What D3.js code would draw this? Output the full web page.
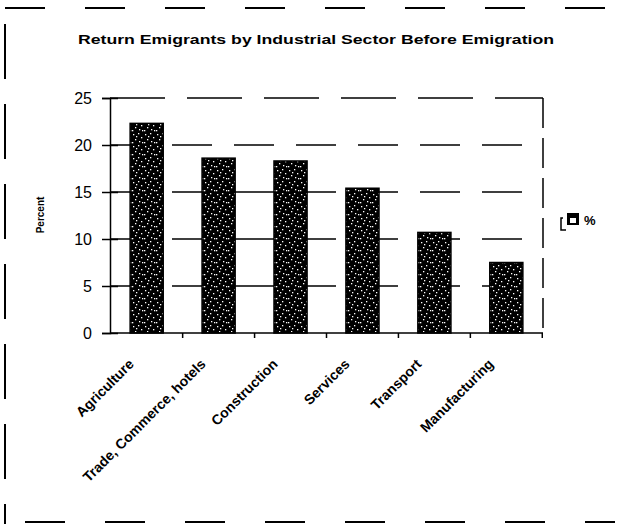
<!DOCTYPE html>
<html><head><meta charset="utf-8">
<script src="https://cdn.jsdelivr.net/npm/d3@7"></script>
<style>body{margin:0;background:#fff}svg{display:block}</style>
</head><body>
<script>
const categories = ["Agriculture","Trade, Commerce, hotels","Construction","Services","Transport","Manufacturing"];
const values = [22.3, 18.6, 18.3, 15.4, 10.7, 7.5];
const yTicks = [0,5,10,15,20,25];
const title = "Return Emigrants by Industrial Sector Before Emigration";
const yLabel = "Percent";
const legendLabel = "%";

const W=617,H=524;
const svg=d3.select("body").append("svg").attr("width",W).attr("height",H);
const defs=svg.append("defs");
const pat=defs.append("pattern").attr("id","speck").attr("patternUnits","userSpaceOnUse").attr("width",12).attr("height",12);
pat.append("rect").attr("width",12).attr("height",12).attr("fill","#000");
[[1,2],[6,1],[9,5],[3,7],[7,9],[10,10],[4,4],[0,10]].forEach(p=>pat.append("rect").attr("x",p[0]).attr("y",p[1]).attr("width",1.3).attr("height",1.3).attr("fill","#fff"));

const L=110,R=543,T=98,B=333;
const x=d3.scaleBand().domain(categories).range([L,R]).paddingInner(0.54).paddingOuter(0.28);
const y=d3.scaleLinear().domain([0,25]).range([B,T]);

// outer frame (dashed)
svg.append("line").attr("x1",5).attr("x2",615).attr("y1",8).attr("y2",8).attr("stroke","#000").attr("stroke-width",2).attr("stroke-dasharray","40,40");
svg.append("line").attr("x1",5).attr("x2",5).attr("y1",24).attr("y2",524).attr("stroke","#000").attr("stroke-width",2).attr("stroke-dasharray","55,25");
svg.append("line").attr("x1",25).attr("x2",615).attr("y1",522).attr("y2",522).attr("stroke","#000").attr("stroke-width",2).attr("stroke-dasharray","40,40");

// title
svg.append("text").attr("x",316).attr("y",44).attr("text-anchor","middle").attr("font-family","Liberation Sans, Arial, sans-serif").attr("font-weight","bold").attr("font-size",13).attr("textLength",476).attr("lengthAdjust","spacingAndGlyphs").text(title);

// grid lines
const g=svg.append("g");
yTicks.filter(t=>t>0&&t<25).forEach(t=>{
  g.append("line").attr("x1",L).attr("x2",R).attr("y1",y(t)).attr("y2",y(t)).attr("stroke","#000").attr("stroke-width",1.5).attr("stroke-dasharray","40,22");
});
// top and right border dashed
g.append("line").attr("x1",L).attr("x2",R).attr("y1",y(25)).attr("y2",y(25)).attr("stroke","#000").attr("stroke-width",1.5).attr("stroke-dasharray","55,22");
g.append("line").attr("x1",R).attr("x2",R).attr("y1",y(25)).attr("y2",B).attr("stroke","#000").attr("stroke-width",1.5).attr("stroke-dasharray","30,10");

// bars
svg.append("g").selectAll("rect").data(values).join("rect")
 .attr("x",(d,i)=>x(categories[i])).attr("y",d=>y(d))
 .attr("width",x.bandwidth()).attr("height",d=>B-y(d))
 .attr("fill","url(#speck)").attr("stroke","#000").attr("stroke-width",1.5);

// y axis
const ya=svg.append("g").attr("transform",`translate(${L},0)`).call(d3.axisLeft(y).tickValues(yTicks).tickSize(8).tickPadding(10));
ya.select(".domain").attr("stroke-width",1.5);
ya.selectAll(".tick line").attr("stroke-width",1.5).attr("x2",-8).attr("x1",8);
ya.selectAll("text").attr("font-family","Liberation Sans, Arial, sans-serif").attr("font-size",16);

// x axis
svg.append("line").attr("x1",L).attr("x2",R).attr("y1",B).attr("y2",B).attr("stroke","#000").attr("stroke-width",1.5);
const xa=svg.append("g");
categories.forEach(c=>{
  xa.append("line").attr("x1",x(c)+x.bandwidth()/2+x.step()/2).attr("x2",x(c)+x.bandwidth()/2+x.step()/2).attr("y1",B).attr("y2",B+5).attr("stroke","#000").attr("stroke-width",1.5);
  xa.append("text").attr("transform",`translate(${x(c)+x.bandwidth()/2-12},${B+32}) rotate(-45)`)
   .attr("text-anchor","end").attr("font-family","Liberation Sans, Arial, sans-serif").attr("font-weight","bold").attr("font-size",14).text(c);
});

// y label
svg.append("text").attr("transform","translate(44,215) rotate(-90)").attr("text-anchor","middle").attr("font-family","Liberation Sans, Arial, sans-serif").attr("font-weight","bold").attr("font-size",10).text(yLabel);

// legend
const lg=svg.append("g");
lg.append("path").attr("d","M563,218 L561,218 L561,230 L566,230").attr("fill","none").attr("stroke","#000").attr("stroke-width",1.5);
lg.append("rect").attr("x",567).attr("y",213).attr("width",12).attr("height",12).attr("fill","#000");
lg.append("rect").attr("x",570).attr("y",218).attr("width",6).attr("height",5).attr("fill","#fff");
lg.append("text").attr("x",584).attr("y",225).attr("font-family","Liberation Sans, Arial, sans-serif").attr("font-weight","bold").attr("font-size",13).text(legendLabel);
</script>
</body></html>
